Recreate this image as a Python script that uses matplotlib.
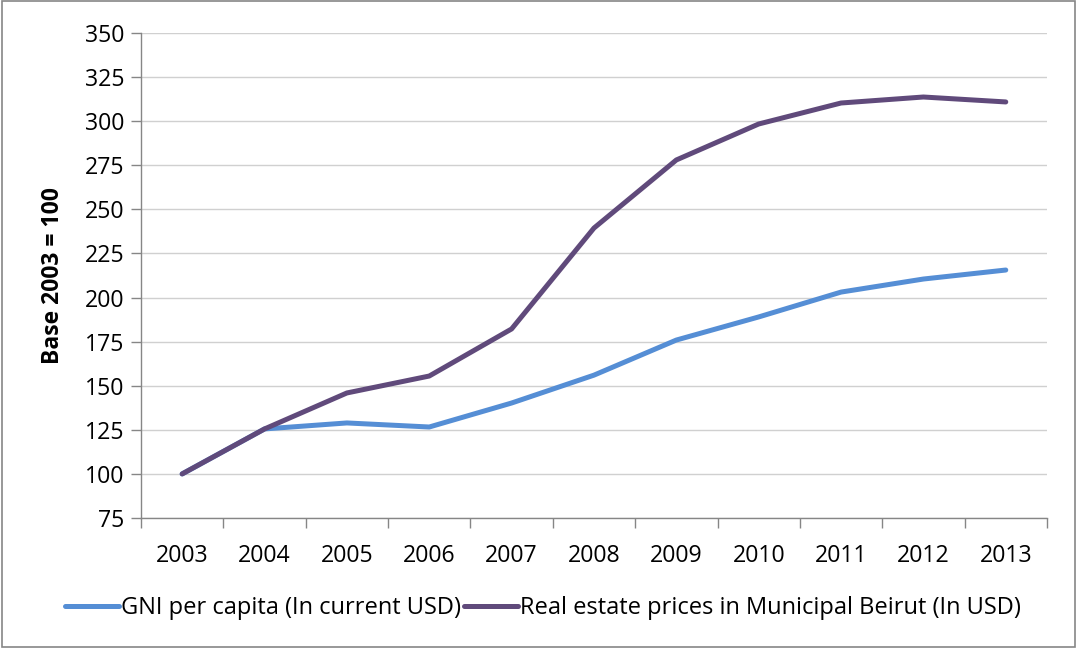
import matplotlib.pyplot as plt
import numpy as np
from matplotlib.patches import Rectangle

plt.rcParams['font.family'] = ['Open Sans', 'DejaVu Sans']

years = ['2003', '2004', '2005', '2006', '2007', '2008',
         '2009', '2010', '2011', '2012', '2013']
gni = [100, 125.5, 128.9, 126.6, 140.2, 156, 175.9, 189, 203.1, 210.5, 215.6]
real_estate = [100, 125.5, 145.9, 155.5, 182.2, 239.4, 278, 298.4, 310.3, 313.7, 310.9]

fig = plt.figure(figsize=(10.77, 6.48), dpi=100)
ax = fig.add_axes([0.1309, 0.2006, 0.8412, 0.7485])

x = np.arange(len(years))
ax.plot(x, gni, color='#558ED5', lw=3.6, solid_capstyle='round',
        label='GNI per capita (In current USD)')
ax.plot(x, real_estate, color='#604A7B', lw=3.6, solid_capstyle='round',
        label='Real estate prices in Municipal Beirut (In USD)')

ax.set_xlim(-0.5, len(years) - 0.5)
ax.set_ylim(75, 350)
ax.set_yticks(np.arange(75, 351, 25))
ax.set_xticks(x)
ax.set_xticklabels(years)
ax.set_xticks(np.arange(-0.5, len(years), 1), minor=True)
ax.tick_params(axis='x', which='major', length=0, pad=19, labelsize=16.7)
ax.tick_params(axis='x', which='minor', length=7, color='#868686', width=1)
ax.tick_params(axis='y', length=7, color='#868686', width=1, pad=5, labelsize=16.7)

ax.grid(axis='y', color='#d0d0d0', lw=1)
ax.set_axisbelow(True)
for side in ['top', 'right']:
    ax.spines[side].set_visible(False)
for side in ['left', 'bottom']:
    ax.spines[side].set_color('#868686')
    ax.spines[side].set_linewidth(1)

ax.set_ylabel('Base 2003 = 100', fontsize=16.5, fontweight='bold', labelpad=14)

fig.legend(loc='center', bbox_to_anchor=(0.504, 0.061), ncol=2, frameon=False,
           fontsize=17, handlelength=2.3, handletextpad=0.1, columnspacing=0.1)

# thin frame around the whole figure
fig.patches.append(Rectangle((0.002, 0.002), 0.996, 0.996, transform=fig.transFigure,
                             fill=False, edgecolor='#868686', lw=1.2))

fig.savefig('out.png', dpi=100)
